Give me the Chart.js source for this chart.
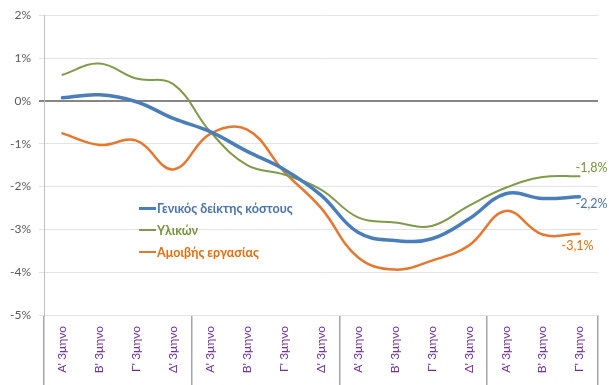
<!DOCTYPE html>
<html>
<head>
<meta charset="utf-8">
<script src="https://cdn.jsdelivr.net/npm/chart.js@4/dist/chart.umd.min.js"></script>
<style>
  html, body { margin: 0; padding: 0; background: #fff; }
  #wrap { position: relative; width: 609px; height: 385px; }
  #legend { position: absolute; left: 139px; top: 197px; font-family: Lato, sans-serif; font-weight: bold; font-size: 12.5px; }
  .item { height: 22px; display: flex; align-items: center; white-space: nowrap; }
  .item i { display: inline-block; width: 17px; margin-right: 1px; }
</style>
</head>
<body>
<div id="wrap">
  <canvas id="chart" width="609" height="385"></canvas>
  <div id="legend"></div>
</div>
<script>
// quarters, grouped by year (4+4+4+3)
const quarters = [
  "Α' 3μηνο", "Β' 3μηνο", "Γ' 3μηνο", "Δ' 3μηνο",
  "Α' 3μηνο", "Β' 3μηνο", "Γ' 3μηνο", "Δ' 3μηνο",
  "Α' 3μηνο", "Β' 3μηνο", "Γ' 3μηνο", "Δ' 3μηνο",
  "Α' 3μηνο", "Β' 3μηνο", "Γ' 3μηνο"
];
const groupStarts = [0, 4, 8, 12];

const generalIndex = [0.07, 0.14, -0.02, -0.41, -0.72, -1.18, -1.6, -2.2, -3.07, -3.26, -3.22, -2.76, -2.17, -2.28, -2.24];
const materials    = [0.61, 0.87, 0.52, 0.39, -0.72, -1.5, -1.72, -2.07, -2.72, -2.84, -2.92, -2.45, -2.03, -1.78, -1.76];
const wages        = [-0.76, -1.03, -0.93, -1.6, -0.77, -0.67, -1.65, -2.5, -3.65, -3.94, -3.73, -3.38, -2.57, -3.12, -3.1];

const seriesNames = ['Γενικός δείκτης κόστους', 'Υλικών', 'Αμοιβής εργασίας'];
const yTicks = [2, 1, 0, -1, -2, -3, -4, -5];

const BLUE = '#4a7ebb', GREEN = '#7f9a48', ORANGE = '#e8772e';

// value label next to the last point of each line
const endLabels = {
  id: 'endLabels',
  afterDatasetsDraw(chart) {
    const ctx = chart.ctx;
    chart.data.datasets.forEach((ds, i) => {
      const meta = chart.getDatasetMeta(i);
      const pt = meta.data[meta.data.length - 1];
      const v = ds.data[ds.data.length - 1];
      ctx.save();
      ctx.font = '12.5px Lato';
      ctx.fillStyle = ds.labelColor;
      ctx.textAlign = 'center';
      ctx.textBaseline = 'middle';
      ctx.fillText(v.toFixed(1).replace('.', ',') + '%', pt.x + ds.labelDx, pt.y + ds.labelDy);
      ctx.restore();
    });
  }
};

const chart = new Chart(document.getElementById('chart'), {
  type: 'line',
  data: {
    labels: quarters,
    datasets: [
      { label: seriesNames[0], data: generalIndex, borderColor: BLUE, borderWidth: 3.5, labelColor: '#4a73ad', labelDx: 12, labelDy: 7 },
      { label: seriesNames[1], data: materials, borderColor: GREEN, borderWidth: 2, labelColor: '#77933c', labelDx: 12, labelDy: -8 },
      { label: seriesNames[2], data: wages, borderColor: ORANGE, borderWidth: 2.5, labelColor: '#e46c0a', labelDx: -2, labelDy: 12 }
    ]
  },
  options: {
    responsive: false,
    animation: false,
    layout: { padding: { top: 7, right: 11, left: 0, bottom: 0 } },
    elements: {
      point: { radius: 0 },
      line: { tension: 0.4, fill: false, borderCapStyle: 'round' }
    },
    plugins: {
      legend: { display: false },
      tooltip: { enabled: false }
    },
    scales: {
      x: {
        offset: true,
        afterFit: s => { s.height = 70; },
        border: { display: false },
        grid: {
          offset: true,
          drawOnChartArea: false,
          tickLength: 70,
          color: c => (c.index === undefined || groupStarts.includes(c.index)) ? '#a6a6a6' : 'rgba(0,0,0,0)',
          lineWidth: 1.5
        },
        ticks: {
          autoSkip: false,
          maxRotation: 90,
          minRotation: 90,
          padding: -59,
          color: '#7030a0',
          font: { family: 'Lato', size: 12 }
        }
      },
      y: {
        min: -5,
        max: 2,
        afterFit: s => { s.width = 44; },
        afterBuildTicks: s => { s.ticks = yTicks.map(v => ({ value: v })); },
        border: { color: '#bfbfbf', width: 1 },
        grid: {
          tickLength: 5,
          color: c => c.tick && c.tick.value === 0 ? '#868686' : '#e3e3e3',
          lineWidth: c => c.tick && c.tick.value === 0 ? 2 : 1
        },
        ticks: {
          padding: 8,
          color: '#595959',
          font: { family: 'Lato', size: 12 },
          callback: v => v + '%'
        }
      }
    }
  },
  plugins: [endLabels]
});

// legend drawn as html inside the plot, like the original
const legend = document.getElementById('legend');
chart.data.datasets.forEach(ds => {
  const row = document.createElement('div');
  row.className = 'item';
  row.style.color = ds.labelColor;
  row.innerHTML = `<i style="background:${ds.borderColor};height:${ds.borderWidth >= 3 ? 3 : 2}px"></i>${ds.label}`;
  legend.appendChild(row);
});
</script>
</body>
</html>
